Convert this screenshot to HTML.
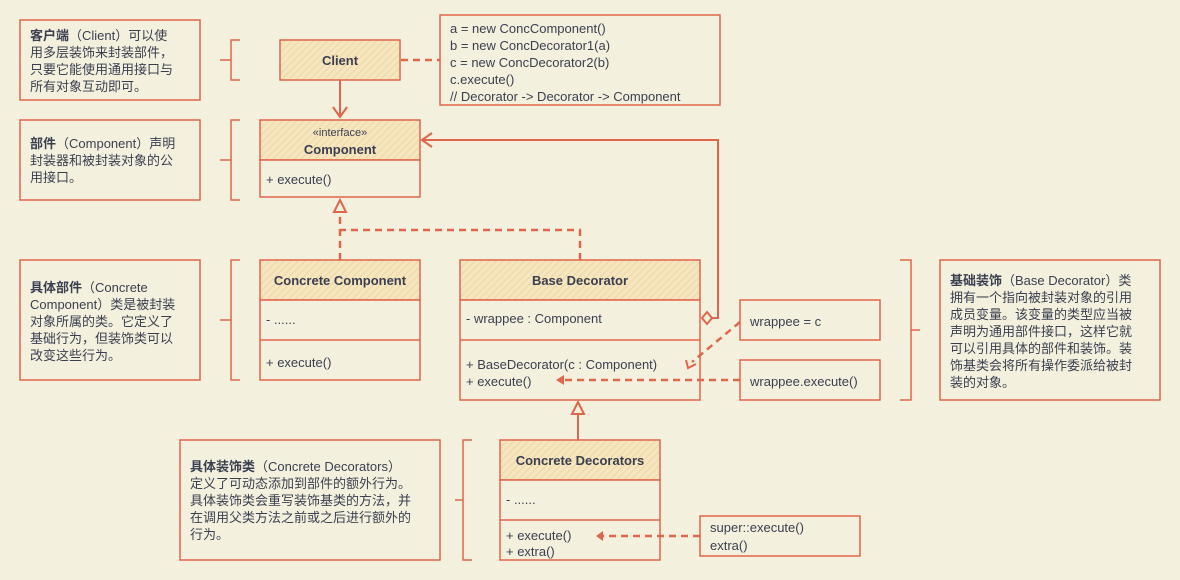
<!DOCTYPE html>
<html><head><meta charset="utf-8"><style>
html,body{margin:0;padding:0;background:#f4f0de;}
svg{display:block}
text{font-family:"Liberation Sans","Noto Sans CJK SC",sans-serif;font-size:13px;fill:#3a3f50;}
.b{font-weight:bold}
.s{stroke:#e0664b;stroke-width:1.5;fill:none}
.f{stroke:#e0664b;stroke-width:1.5;fill:#f4f0de}
.h{stroke:#e0664b;stroke-width:1.5;fill:url(#hatch)}
.d{stroke:#e0664b;stroke-width:2.5;fill:none;stroke-dasharray:7 5}
.a{stroke:#e0664b;stroke-width:2;fill:none}
</style></head><body>
<svg width="1180" height="580" viewBox="0 0 1180 580">
<defs>
<pattern id="hatch" width="5" height="5" patternUnits="userSpaceOnUse" patternTransform="rotate(45)">
<rect width="5" height="5" fill="#f6e6c0"/><line x1="0" y1="0" x2="0" y2="5" stroke="#eccf9a" stroke-width="1.5"/>
</pattern>
</defs>

<!-- notes -->
<rect class="f" x="20" y="20" width="180" height="80"/>
<text x="30" y="40"><tspan class="b">客户端</tspan>（Client）可以使</text>
<text x="30" y="57">用多层装饰来封装部件，</text>
<text x="30" y="74">只要它能使用通用接口与</text>
<text x="30" y="91">所有对象互动即可。</text>
<path class="s" d="M240,40 H231 V80 H240 M231,60 H220"/>

<rect class="f" x="20" y="120" width="180" height="80"/>
<text x="30" y="148"><tspan class="b">部件</tspan>（Component）声明</text>
<text x="30" y="165">封装器和被封装对象的公</text>
<text x="30" y="182">用接口。</text>
<path class="s" d="M240,120 H231 V200 H240 M231,160 H220"/>

<rect class="f" x="20" y="260" width="180" height="120"/>
<text x="30" y="292"><tspan class="b">具体部件</tspan>（Concrete</text>
<text x="30" y="309">Component）类是被封装</text>
<text x="30" y="326">对象所属的类。它定义了</text>
<text x="30" y="343">基础行为，但装饰类可以</text>
<text x="30" y="360">改变这些行为。</text>
<path class="s" d="M240,260 H231 V380 H240 M231,320 H220"/>

<rect class="f" x="180" y="440" width="260" height="120"/>
<text x="190" y="471"><tspan class="b">具体装饰类</tspan>（Concrete Decorators）</text>
<text x="190" y="488">定义了可动态添加到部件的额外行为。</text>
<text x="190" y="505">具体装饰类会重写装饰基类的方法，并</text>
<text x="190" y="522">在调用父类方法之前或之后进行额外的</text>
<text x="190" y="539">行为。</text>
<path class="s" d="M472,440 H463 V560 H472 M463,500 H455"/>

<rect class="f" x="940" y="260" width="220" height="140"/>
<text x="950" y="285"><tspan class="b">基础装饰</tspan>（Base Decorator）类</text>
<text x="950" y="302">拥有一个指向被封装对象的引用</text>
<text x="950" y="319">成员变量。该变量的类型应当被</text>
<text x="950" y="336">声明为通用部件接口，这样它就</text>
<text x="950" y="353">可以引用具体的部件和装饰。装</text>
<text x="950" y="370">饰基类会将所有操作委派给被封</text>
<text x="950" y="387">装的对象。</text>
<path class="s" d="M900,260 H911 V400 H900 M911,330 H920"/>

<!-- code box -->
<rect class="f" x="440" y="15" width="280" height="90"/>
<text x="450" y="33">a = new ConcComponent()</text>
<text x="450" y="50">b = new ConcDecorator1(a)</text>
<text x="450" y="67">c = new ConcDecorator2(b)</text>
<text x="450" y="84">c.execute()</text>
<text x="450" y="101">// Decorator -&gt; Decorator -&gt; Component</text>
<path class="d" d="M401,60 H440"/>

<!-- Client -->
<rect class="h" x="280" y="40" width="120" height="40"/>
<text class="b" x="340" y="65" text-anchor="middle">Client</text>
<path class="a" d="M340,80 V117 M333,107 L340,117 L347,107"/>

<!-- Component -->
<rect class="h" x="260" y="120" width="160" height="40"/>
<rect class="f" x="260" y="160" width="160" height="37"/>
<text x="340" y="136" text-anchor="middle" style="font-size:11px">«interface»</text>
<text class="b" x="340" y="154" text-anchor="middle">Component</text>
<text x="266" y="184">+ execute()</text>

<!-- realization -->
<path class="d" d="M340,260 V212 M580,260 V230 H340"/>
<path class="f" style="stroke-width:2" d="M334,212 L340,200 L346,212 Z"/>

<!-- Concrete Component -->
<rect class="h" x="260" y="260" width="160" height="40"/>
<rect class="f" x="260" y="300" width="160" height="80"/>
<line class="s" x1="260" y1="340" x2="420" y2="340"/>
<text class="b" x="340" y="285" text-anchor="middle">Concrete Component</text>
<text x="266" y="324">- ......</text>
<text x="266" y="367">+ execute()</text>

<!-- Base Decorator -->
<rect class="h" x="460" y="260" width="240" height="40"/>
<rect class="f" x="460" y="300" width="240" height="100"/>
<line class="s" x1="460" y1="340" x2="700" y2="340"/>
<text class="b" x="580" y="285" text-anchor="middle">Base Decorator</text>
<text x="466" y="323">- wrappee : Component</text>
<text x="466" y="369">+ BaseDecorator(c : Component)</text>
<text x="466" y="386">+ execute()</text>

<!-- aggregation -->
<path class="a" d="M712,318 H718 V140 H422 M432,133 L422,140 L432,147"/>
<path class="f" style="stroke-width:2" d="M702,318 L707,312 L712,318 L707,324 Z"/>

<rect class="f" x="740" y="300" width="140" height="40"/>
<text x="750" y="326">wrappee = c</text>
<rect class="f" x="740" y="360" width="140" height="40"/>
<text x="750" y="386">wrappee.execute()</text>
<path class="d" d="M740,322 L692,362"/>
<path class="a" d="M686,360 L688,368 L696,364"/>
<path class="d" d="M740,380 H562"/>
<path fill="#e0664b" d="M556,380 L564,375 L564,385 Z"/>

<!-- Concrete Decorators -->
<path class="a" d="M578,440 V414"/>
<path class="f" style="stroke-width:2" d="M572,414 L578,402 L584,414 Z"/>
<rect class="h" x="500" y="440" width="160" height="40"/>
<rect class="f" x="500" y="480" width="160" height="80"/>
<line class="s" x1="500" y1="520" x2="660" y2="520"/>
<text class="b" x="580" y="465" text-anchor="middle">Concrete Decorators</text>
<text x="506" y="504">- ......</text>
<text x="506" y="540">+ execute()</text>
<text x="506" y="556">+ extra()</text>

<rect class="f" x="700" y="516" width="160" height="40"/>
<text x="710" y="532">super::execute()</text>
<text x="710" y="550">extra()</text>
<path class="d" d="M700,536 H602"/>
<path fill="#e0664b" d="M596,536 L603,531 L603,541 Z"/>
</svg>
</body></html>
